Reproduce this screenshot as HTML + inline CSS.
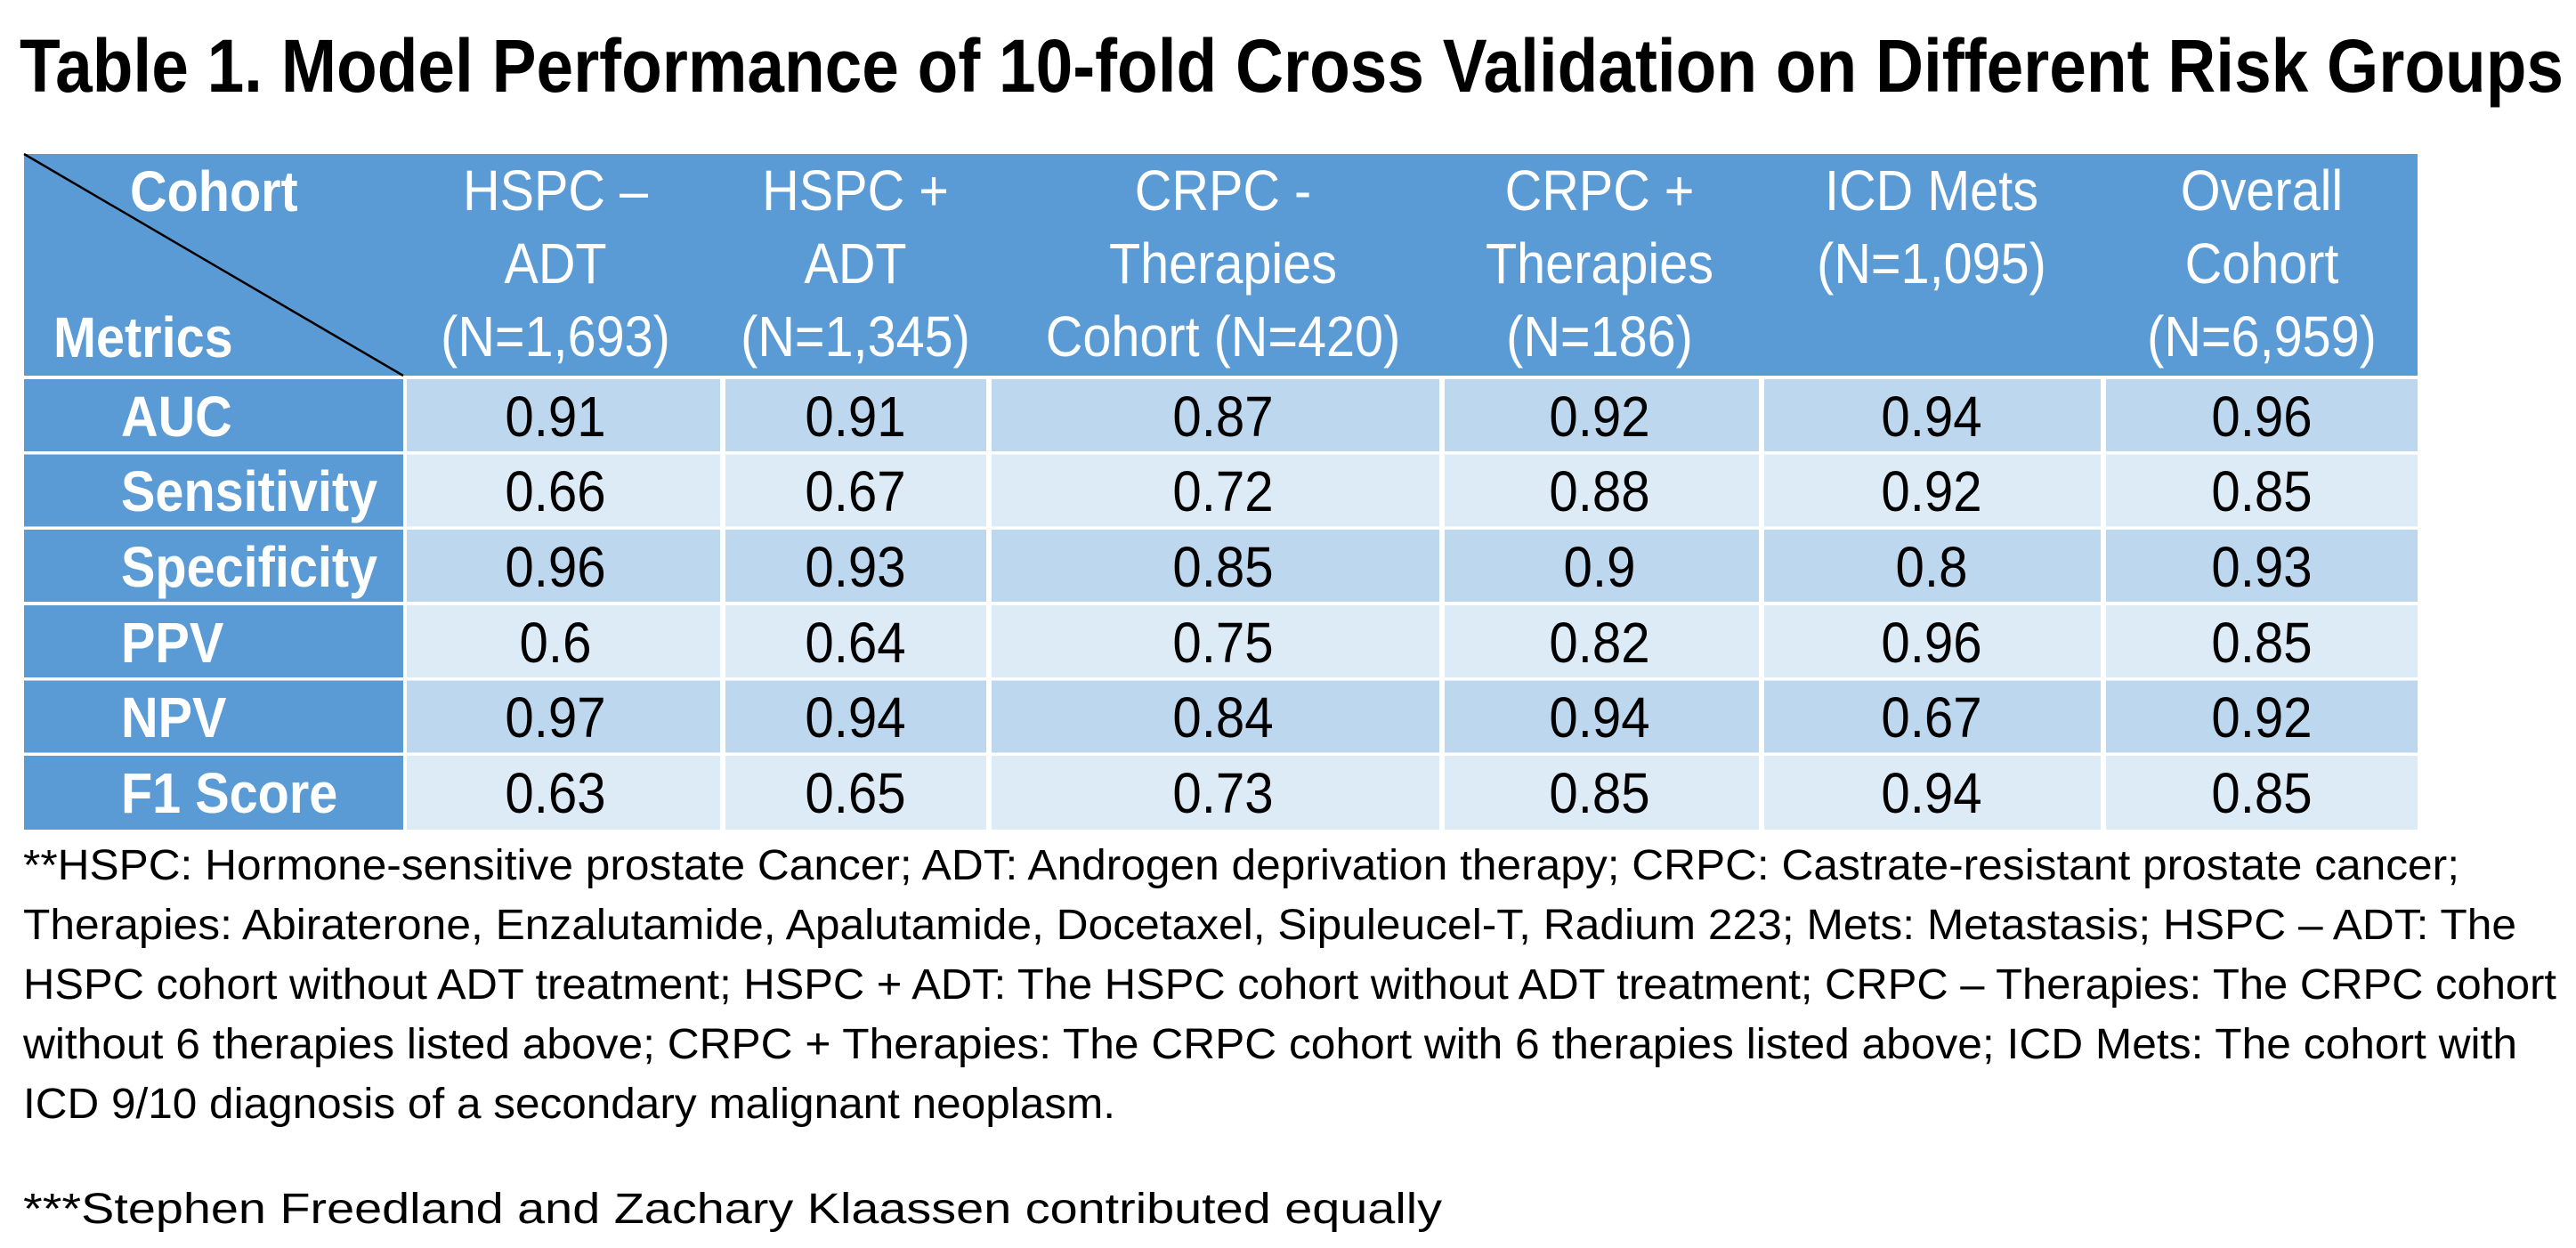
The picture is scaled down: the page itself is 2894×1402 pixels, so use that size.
<!DOCTYPE html>
<html><head><meta charset="utf-8"><style>
html,body{margin:0;padding:0;background:#fff;}
svg{display:block;}
text{font-family:"Liberation Sans",sans-serif;}
</style></head><body>
<svg width="2894" height="1402" viewBox="0 0 2894 1402" xmlns="http://www.w3.org/2000/svg">
<rect width="2894" height="1402" fill="#fff"/>
<text x="22" y="103" font-size="84" font-weight="bold" textLength="2858" lengthAdjust="spacingAndGlyphs" fill="#000">Table 1. Model Performance of 10-fold Cross Validation on Different Risk Groups</text>

<rect x="27" y="173" width="2689" height="249" fill="#5B9BD5"/>
<line x1="27" y1="173" x2="453" y2="422" stroke="#000" stroke-width="2.5"/>
<g fill="#fff" font-size="64">
<g transform="translate(146,237) scale(0.9,1)"><text font-weight="bold">Cohort</text></g>
<g transform="translate(60,401) scale(0.9,1)"><text font-weight="bold">Metrics</text></g>
<g text-anchor="middle">
<g transform="translate(624,236) scale(0.9,1)"><text>HSPC –</text></g>
<g transform="translate(624,318) scale(0.9,1)"><text>ADT</text></g>
<g transform="translate(624,400) scale(0.9,1)"><text>(N=1,693)</text></g>
<g transform="translate(961,236) scale(0.9,1)"><text>HSPC +</text></g>
<g transform="translate(961,318) scale(0.9,1)"><text>ADT</text></g>
<g transform="translate(961,400) scale(0.9,1)"><text>(N=1,345)</text></g>
<g transform="translate(1374,236) scale(0.9,1)"><text>CRPC -</text></g>
<g transform="translate(1374,318) scale(0.9,1)"><text>Therapies</text></g>
<g transform="translate(1374,400) scale(0.9,1)"><text>Cohort (N=420)</text></g>
<g transform="translate(1797,236) scale(0.9,1)"><text>CRPC +</text></g>
<g transform="translate(1797,318) scale(0.9,1)"><text>Therapies</text></g>
<g transform="translate(1797,400) scale(0.9,1)"><text>(N=186)</text></g>
<g transform="translate(2170,236) scale(0.9,1)"><text>ICD Mets</text></g>
<g transform="translate(2170,318) scale(0.9,1)"><text>(N=1,095)</text></g>
<g transform="translate(2541,236) scale(0.9,1)"><text>Overall</text></g>
<g transform="translate(2541,318) scale(0.9,1)"><text>Cohort</text></g>
<g transform="translate(2541,400) scale(0.9,1)"><text>(N=6,959)</text></g>
</g>
</g>

<g>
<rect x="27" y="426" width="426" height="81" fill="#5B9BD5"/>
<rect x="27" y="510.5" width="426" height="81" fill="#5B9BD5"/>
<rect x="27" y="595" width="426" height="81" fill="#5B9BD5"/>
<rect x="27" y="680" width="426" height="81" fill="#5B9BD5"/>
<rect x="27" y="764.5" width="426" height="81" fill="#5B9BD5"/>
<rect x="27" y="849" width="426" height="83" fill="#5B9BD5"/>
</g>
<g>
<rect x="457" y="426" width="2259" height="81" fill="#BDD7EE"/>
<rect x="457" y="510.5" width="2259" height="81" fill="#DDEBF7"/>
<rect x="457" y="595" width="2259" height="81" fill="#BDD7EE"/>
<rect x="457" y="680" width="2259" height="81" fill="#DDEBF7"/>
<rect x="457" y="764.5" width="2259" height="81" fill="#BDD7EE"/>
<rect x="457" y="849" width="2259" height="83" fill="#DDEBF7"/>
<g fill="#fff">
<rect x="809" y="426" width="6" height="506"/>
<rect x="1108" y="426" width="6" height="506"/>
<rect x="1617" y="426" width="6" height="506"/>
<rect x="1976" y="426" width="6" height="506"/>
<rect x="2360" y="426" width="6" height="506"/>
</g>
</g>
<g fill="#fff" font-size="64" font-weight="bold">
<g transform="translate(136,490) scale(0.9,1)"><text>AUC</text></g>
<g transform="translate(136,574) scale(0.9,1)"><text>Sensitivity</text></g>
<g transform="translate(136,659) scale(0.9,1)"><text>Specificity</text></g>
<g transform="translate(136,744) scale(0.9,1)"><text>PPV</text></g>
<g transform="translate(136,828) scale(0.9,1)"><text>NPV</text></g>
<g transform="translate(136,913) scale(0.9,1)"><text>F1 Score</text></g>
</g>
<g fill="#000" font-size="64" text-anchor="middle">
<g transform="translate(624,490) scale(0.91,1)"><text>0.91</text></g>
<g transform="translate(961,490) scale(0.91,1)"><text>0.91</text></g>
<g transform="translate(1374,490) scale(0.91,1)"><text>0.87</text></g>
<g transform="translate(1797,490) scale(0.91,1)"><text>0.92</text></g>
<g transform="translate(2170,490) scale(0.91,1)"><text>0.94</text></g>
<g transform="translate(2541,490) scale(0.91,1)"><text>0.96</text></g>

<g transform="translate(624,574) scale(0.91,1)"><text>0.66</text></g>
<g transform="translate(961,574) scale(0.91,1)"><text>0.67</text></g>
<g transform="translate(1374,574) scale(0.91,1)"><text>0.72</text></g>
<g transform="translate(1797,574) scale(0.91,1)"><text>0.88</text></g>
<g transform="translate(2170,574) scale(0.91,1)"><text>0.92</text></g>
<g transform="translate(2541,574) scale(0.91,1)"><text>0.85</text></g>

<g transform="translate(624,659) scale(0.91,1)"><text>0.96</text></g>
<g transform="translate(961,659) scale(0.91,1)"><text>0.93</text></g>
<g transform="translate(1374,659) scale(0.91,1)"><text>0.85</text></g>
<g transform="translate(1797,659) scale(0.91,1)"><text>0.9</text></g>
<g transform="translate(2170,659) scale(0.91,1)"><text>0.8</text></g>
<g transform="translate(2541,659) scale(0.91,1)"><text>0.93</text></g>

<g transform="translate(624,744) scale(0.91,1)"><text>0.6</text></g>
<g transform="translate(961,744) scale(0.91,1)"><text>0.64</text></g>
<g transform="translate(1374,744) scale(0.91,1)"><text>0.75</text></g>
<g transform="translate(1797,744) scale(0.91,1)"><text>0.82</text></g>
<g transform="translate(2170,744) scale(0.91,1)"><text>0.96</text></g>
<g transform="translate(2541,744) scale(0.91,1)"><text>0.85</text></g>

<g transform="translate(624,828) scale(0.91,1)"><text>0.97</text></g>
<g transform="translate(961,828) scale(0.91,1)"><text>0.94</text></g>
<g transform="translate(1374,828) scale(0.91,1)"><text>0.84</text></g>
<g transform="translate(1797,828) scale(0.91,1)"><text>0.94</text></g>
<g transform="translate(2170,828) scale(0.91,1)"><text>0.67</text></g>
<g transform="translate(2541,828) scale(0.91,1)"><text>0.92</text></g>

<g transform="translate(624,913) scale(0.91,1)"><text>0.63</text></g>
<g transform="translate(961,913) scale(0.91,1)"><text>0.65</text></g>
<g transform="translate(1374,913) scale(0.91,1)"><text>0.73</text></g>
<g transform="translate(1797,913) scale(0.91,1)"><text>0.85</text></g>
<g transform="translate(2170,913) scale(0.91,1)"><text>0.94</text></g>
<g transform="translate(2541,913) scale(0.91,1)"><text>0.85</text></g>
</g>

<g fill="#000" font-size="48">
<text x="26" y="988" textLength="2737" lengthAdjust="spacingAndGlyphs">**HSPC: Hormone-sensitive prostate Cancer; ADT: Androgen deprivation therapy; CRPC: Castrate-resistant prostate cancer;</text>
<text x="26" y="1055" textLength="2801" lengthAdjust="spacingAndGlyphs">Therapies: Abiraterone, Enzalutamide, Apalutamide, Docetaxel, Sipuleucel-T, Radium 223; Mets: Metastasis; HSPC – ADT: The</text>
<text x="26" y="1122" textLength="2846" lengthAdjust="spacingAndGlyphs">HSPC cohort without ADT treatment; HSPC + ADT: The HSPC cohort without ADT treatment; CRPC – Therapies: The CRPC cohort</text>
<text x="26" y="1189" textLength="2802" lengthAdjust="spacingAndGlyphs">without 6 therapies listed above; CRPC + Therapies: The CRPC cohort with 6 therapies listed above; ICD Mets: The cohort with</text>
<text x="26" y="1256" textLength="1227" lengthAdjust="spacingAndGlyphs">ICD 9/10 diagnosis of a secondary malignant neoplasm.</text>
<text x="26" y="1374" textLength="1594" lengthAdjust="spacingAndGlyphs">***Stephen Freedland and Zachary Klaassen contributed equally</text>
</g>
</svg>
</body></html>
